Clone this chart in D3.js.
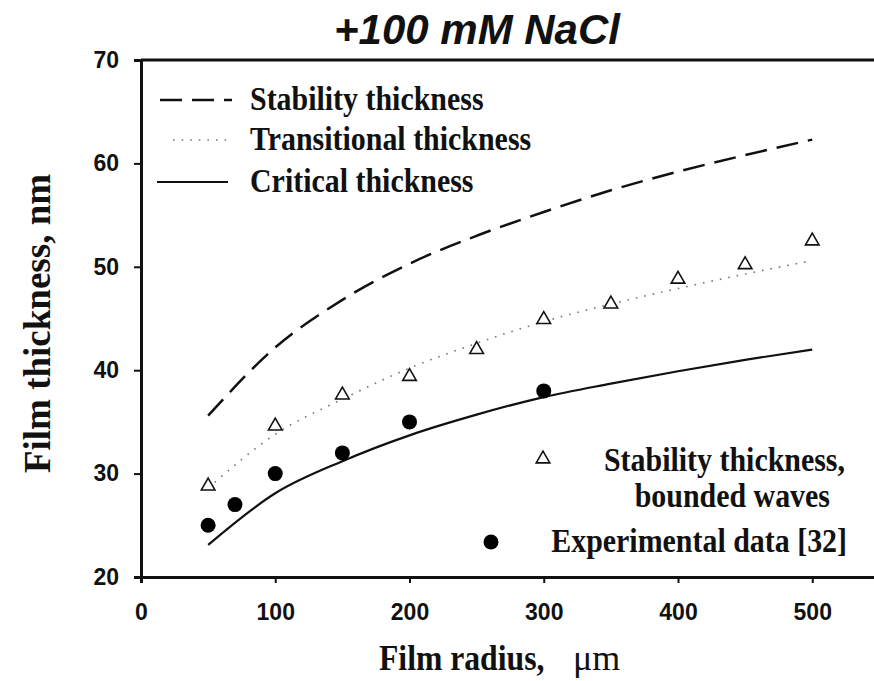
<!DOCTYPE html>
<html>
<head>
<meta charset="utf-8">
<script src="https://cdn.jsdelivr.net/npm/d3@7"></script>
<style>
  body { margin: 0; background: #fff; }
  svg { display: block; }
  .tick text { font-family: "Liberation Sans", Arial, sans-serif; font-weight: bold; font-size: 23px; fill: #111; }
  .serif { font-family: "Liberation Serif", "Times New Roman", serif; font-weight: bold; fill: #111; }
</style>
</head>
<body>
<svg id="chart" width="874" height="681"></svg>
<script>
// model curves (film radius, um)
const curveRadius = [50, 100, 150, 200, 250, 300, 350, 400, 450, 500]
const stabilityThickness = [35.6, 42.2, 46.8, 50.3, 53.0, 55.3, 57.4, 59.2, 60.8, 62.3]
const transitionalThickness = [28.6, 33.8, 37.2, 40.2, 42.6, 44.7, 46.4, 47.9, 49.3, 50.6]
const criticalThickness = [23.1, 28.1, 31.2, 33.7, 35.7, 37.4, 38.7, 39.9, 41.0, 42.0]

// bounded waves (triangles)
const wavesRadius = [50, 100, 150, 200, 250, 300, 350, 400, 450, 500]
const wavesThickness = [28.8, 34.6, 37.6, 39.4, 42.0, 44.9, 46.4, 48.8, 50.2, 52.5]

// experimental data [32]
const expRadius = [50, 70, 100, 150, 200, 300]
const expThickness = [25.0, 27.0, 30.0, 32.0, 35.0, 38.0]

const xTicks = [0, 100, 200, 300, 400, 500]
const yTicks = [20, 30, 40, 50, 60, 70]

const width = 874,
    height = 681
const margin = { top: 60, left: 141, bottom: 577 }
// the source picture is squeezed sideways a little
const squeeze = 0.88

const svg = d3.select('#chart')

const x = d3.scaleLinear()
    .domain([0, 550])
    .range([margin.left, margin.left + 550 * 1.3425])

const y = d3.scaleLinear()
    .domain([20, 70])
    .range([margin.bottom, margin.top])

// helper: serif bold text, squeezed horizontally
function label(px, py, txt, size, anchor, sx) {
    return svg.append('g')
        .attr('transform', `translate(${px},${py}) scale(${sx || squeeze},1)`)
        .append('text')
        .attr('class', 'serif')
        .attr('text-anchor', anchor || 'start')
        .style('font-size', size + 'px')
        .text(txt)
}

// title
svg.append('text')
    .attr('x', 477)
    .attr('y', 44)
    .attr('text-anchor', 'middle')
    .style('font-family', '"Liberation Sans", Arial, sans-serif')
    .style('font-weight', 'bold')
    .style('font-style', 'italic')
    .style('font-size', '42px')
    .style('fill', '#111')
    .text('+100 mM NaCl')

// top frame line
svg.append('line')
    .attr('x1', x(0)).attr('x2', width)
    .attr('y1', y(70)).attr('y2', y(70))
    .attr('stroke', '#111')
    .attr('stroke-width', 3)

// axes
const yAxis = svg.append('g')
    .attr('transform', `translate(${x(0)},0)`)
    .call(d3.axisLeft(y).tickValues(yTicks).tickSize(7).tickPadding(15))
yAxis.select('.domain').attr('stroke-width', 3).attr('stroke', '#111')
yAxis.selectAll('.tick line').attr('stroke-width', 2).attr('stroke', '#111')

const xAxis = svg.append('g')
    .attr('transform', `translate(0,${y(20)})`)
    .call(d3.axisBottom(x).tickValues(xTicks).tickSize(6).tickPadding(21))
xAxis.select('.domain').attr('stroke-width', 3).attr('stroke', '#111')
xAxis.selectAll('.tick line').attr('stroke-width', 2).attr('stroke', '#111')

// axis titles
svg.append('text')
    .attr('class', 'serif')
    .attr('transform', `translate(50,${(y(20) + y(70)) / 2 + 5}) rotate(-90)`)
    .attr('text-anchor', 'middle')
    .style('font-size', '37px')
    .text('Film thickness, nm')

label(379, 670, 'Film radius,', 36)
label(573, 670, '\u03bcm', 36, 'start', 1).style('font-weight', 'normal')

// lines
const line = (xs, ys) => d3.line()
    .x((d, i) => x(xs[i]))
    .y(d => y(d))
    .curve(d3.curveMonotoneX)(ys)

svg.append('path')
    .attr('d', line(curveRadius, stabilityThickness))
    .attr('fill', 'none')
    .attr('stroke', '#111')
    .attr('stroke-width', 2.5)
    .attr('stroke-dasharray', '22,10')

svg.append('path')
    .attr('d', line(curveRadius, transitionalThickness))
    .attr('fill', 'none')
    .attr('stroke', '#777')
    .attr('stroke-width', 1.6)
    .attr('stroke-dasharray', '1.6,7')

svg.append('path')
    .attr('d', line(curveRadius, criticalThickness))
    .attr('fill', 'none')
    .attr('stroke', '#111')
    .attr('stroke-width', 2.2)

// triangles
const tri = d3.symbol().type(d3.symbolTriangle).size(80)
svg.append('g')
    .selectAll('path')
    .data(wavesThickness)
    .join('path')
    .attr('d', tri)
    .attr('transform', (d, i) => `translate(${x(wavesRadius[i])},${y(d)})`)
    .attr('fill', '#fff')
    .attr('stroke', '#111')
    .attr('stroke-width', 1.6)

// filled circles
svg.append('g')
    .selectAll('circle')
    .data(expThickness)
    .join('circle')
    .attr('cx', (d, i) => x(expRadius[i]))
    .attr('cy', d => y(d))
    .attr('r', 7.5)
    .attr('fill', '#000')

// legend, top left
const legendTop = [
    { label: 'Stability thickness', dash: '22,10', color: '#111', w: 2.5, x1: 160, x2: 232, y: 100 },
    { label: 'Transitional thickness', dash: '1.6,7', color: '#777', w: 1.6, x1: 173, x2: 228, y: 140 },
    { label: 'Critical thickness', dash: null, color: '#111', w: 2.2, x1: 157, x2: 228, y: 182 }
]
svg.append('g')
    .selectAll('line')
    .data(legendTop)
    .join('line')
    .attr('x1', d => d.x1).attr('x2', d => d.x2)
    .attr('y1', d => d.y).attr('y2', d => d.y)
    .attr('stroke', d => d.color)
    .attr('stroke-width', d => d.w)
    .attr('stroke-dasharray', d => d.dash)
legendTop.forEach(d => label(250, d.y + 10, d.label, 34))

// legend, bottom right
svg.append('path')
    .attr('d', tri)
    .attr('transform', 'translate(543,459)')
    .attr('fill', '#fff')
    .attr('stroke', '#111')
    .attr('stroke-width', 1.6)
label(845, 471, 'Stability thickness,', 34, 'end')
label(830, 507, 'bounded waves', 34, 'end')

svg.append('circle')
    .attr('cx', 491).attr('cy', 542)
    .attr('r', 7.5)
    .attr('fill', '#000')
label(847, 552, 'Experimental data [32]', 34, 'end')
</script>
</body>
</html>
